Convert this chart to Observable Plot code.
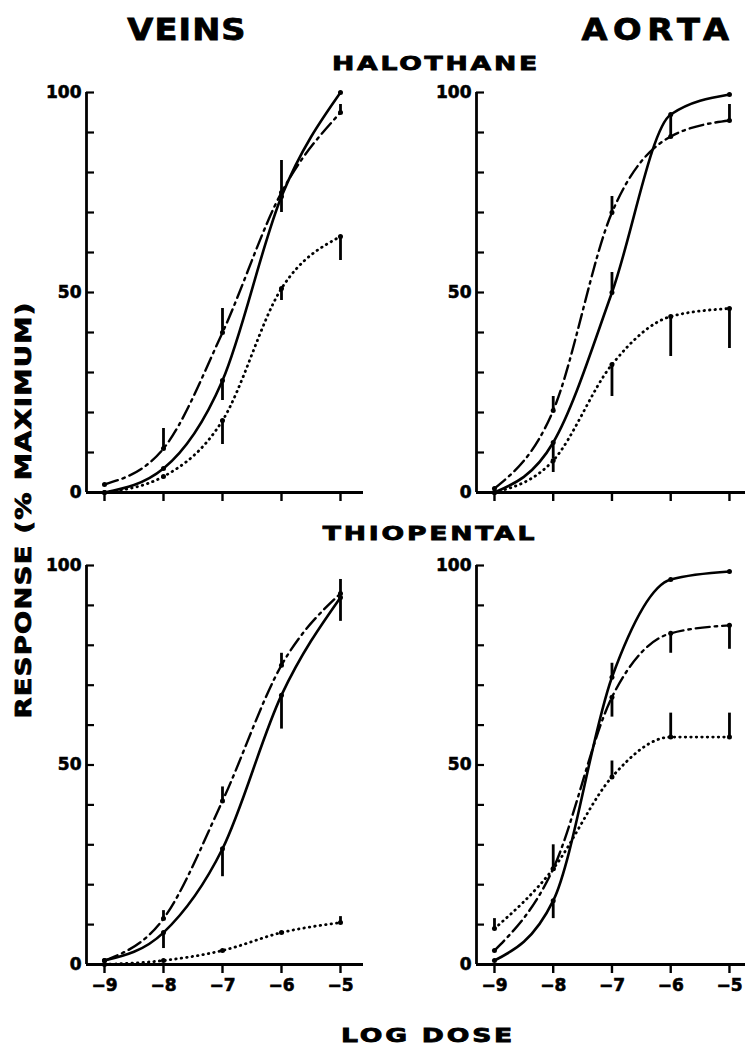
<!DOCTYPE html>
<html>
<head>
<meta charset="utf-8">
<script src="https://cdn.jsdelivr.net/npm/d3@7"></script>
<script src="https://cdn.jsdelivr.net/npm/@observablehq/plot@0.6"></script>
<style>
  body { margin: 0; background: #fff; }
  #fig { position: relative; width: 745px; height: 1047px; overflow: hidden; background: #fff;
         font-family: "DejaVu Sans", sans-serif; font-weight: bold; color: #000; }
  .lbl { position: absolute; white-space: nowrap; line-height: 1; transform-origin: center center;
         -webkit-text-stroke: 0.8px #000; }
  .panel { position: absolute; }
  .panel svg { max-width: none !important; }
  .panel svg text { stroke: #000; stroke-width: 0.6px; }
</style>
</head>
<body>
<div id="fig"></div>
<script>
// ---------- data ----------
const logDose = [-9, -8, -7, -6, -5];
const xTickLabels = ["−9", "−8", "−7", "−6", "−5"];
const yMinorTicks = [0, 10, 20, 30, 40, 50, 60, 70, 80, 90, 100];
const yLabelTicks = [0, 50, 100];
const yTickLabels = ["0", "50", "100"];

// Halothane – veins
const halVeinsSolid      = [0, 6, 28, 74, 100];
const halVeinsSolidErr   = [0, 0, -5, -4, 0];
const halVeinsDashDot    = [2, 11, 40, 75, 95];
const halVeinsDashDotErr = [0, 5, 6, 8, 2];
const halVeinsDotted     = [0, 4, 18, 51, 64];
const halVeinsDottedErr  = [0, 0, -6, -3, -6];

// Halothane – aorta
const halAortaSolid      = [0, 12.5, 50, 94.5, 99.5];
const halAortaSolidErr   = [0, -4, 5, 0, 0];
const halAortaDashDot    = [1, 20.5, 70, 89, 93];
const halAortaDashDotErr = [0, 3.5, 4, 5.5, 4];
const halAortaDotted     = [0, 8, 32, 44, 46];
const halAortaDottedErr  = [0, -3, -8, -10, -10];

// Thiopental – veins
const thioVeinsSolid      = [1, 8, 29, 67.5, 92];
const thioVeinsSolidErr   = [0, -4, -7, -8.5, -6];
const thioVeinsDashDot    = [1, 11.5, 41, 75, 93];
const thioVeinsDashDotErr = [0, 2, 3.5, 3, 3.5];
const thioVeinsDotted     = [0, 1, 3.5, 8, 10.5];
const thioVeinsDottedErr  = [0, 0, 0, 0, 1.5];

// Thiopental – aorta
const thioAortaSolid      = [1, 16, 72, 96.5, 98.5];
const thioAortaSolidErr   = [0, -4.5, 3.5, 0, 0];
const thioAortaDashDot    = [3.5, 24, 67, 83, 85];
const thioAortaDashDotErr = [0, 6, -5, -5, -6];
const thioAortaDotted     = [9, 24, 47, 57, 57];
const thioAortaDottedErr  = [2.5, 0, 4, 6, 6];

// ---------- styles ----------
const lineStyles = {
  solid:   { stroke: "#000", strokeWidth: 2.6 },
  dashDot: { stroke: "#000", strokeWidth: 2.4, strokeDasharray: "14,5,2.5,5" },
  dotted:  { stroke: "#000", strokeWidth: 2.8, strokeDasharray: "0.5,5", strokeLinecap: "round" }
};

function makePanel(cfg) {
  const rows = [];
  const series = [
    ["solid", cfg.solid, cfg.solidErr],
    ["dashDot", cfg.dashDot, cfg.dashDotErr],
    ["dotted", cfg.dotted, cfg.dottedErr]
  ];
  for (const [name, vals, errs] of series) {
    vals.forEach((v, i) => rows.push({ series: name, x: logDose[i], y: v, err: errs[i] }));
  }
  const [x0, x1] = cfg.xDomain;
  const height = cfg.marginTop + cfg.frameH + cfg.marginBottom;
  const marks = [
    Plot.axisY(yMinorTicks, { tickSize: 8, dx: 8, strokeWidth: 2.2, tickFormat: () => "", label: null }),
    Plot.axisY(yLabelTicks, { tickSize: 0, tickPadding: 5, tickFormat: d => yTickLabels[yLabelTicks.indexOf(d)], label: null }),
    Plot.axisX(logDose, { tickSize: 9, tickPadding: 5, strokeWidth: 2.4,
      tickFormat: d => cfg.showXLabels ? xTickLabels[logDose.indexOf(d)] : "", label: null }),
    Plot.ruleX([x0], { y1: 0, y2: 100, strokeWidth: 2.8 }),
    Plot.ruleY([0], { x1: x0, x2: x1, strokeWidth: 2.8 }),
    ...["solid", "dashDot", "dotted"].map(s =>
      Plot.line(rows.filter(r => r.series === s), { x: "x", y: "y", curve: "monotone-x", ...lineStyles[s] })),
    Plot.ruleX(rows.filter(r => r.err !== 0), { x: "x", y1: "y", y2: r => r.y + r.err, strokeWidth: 2.8 }),
    Plot.dot(rows, { x: "x", y: "y", r: 2.5, fill: "#000" })
  ];
  return Plot.plot({
    width: cfg.width, height,
    marginLeft: cfg.marginLeft, marginRight: cfg.marginRight,
    marginTop: cfg.marginTop, marginBottom: cfg.marginBottom,
    x: { domain: cfg.xDomain },
    y: { domain: [0, 100] },
    style: { fontFamily: "DejaVu Sans, sans-serif", fontWeight: "bold", fontSize: "17px",
             background: "transparent", overflow: "visible" },
    marks
  });
}

const fig = document.getElementById("fig");
function place(node, left, top, width) {
  const d = document.createElement("div");
  d.className = "panel";
  d.style.left = left + "px"; d.style.top = top + "px"; d.style.width = width + "px";
  d.appendChild(node);
  fig.appendChild(d);
}
function label(text, cx, cy, size, opts = {}) {
  const d = document.createElement("div");
  d.className = "lbl";
  d.textContent = text;
  d.style.left = cx + "px"; d.style.top = cy + "px";
  d.style.fontSize = size + "px";
  d.style.letterSpacing = (opts.spacing || 0) + "px";
  d.style.transform = `translate(-50%,-50%) ${opts.rotate ? "rotate(" + opts.rotate + "deg)" : ""} scaleX(${opts.sx || 1})`;
  fig.appendChild(d);
}

const leftGeom  = { width: 380, marginLeft: 86, marginRight: 17, xDomain: [-9.305, -4.61] };
const rightGeom = { width: 355, marginLeft: 86, marginRight: 0,  xDomain: [-9.306, -4.727] };
const topGeom    = { marginTop: 32, frameH: 400, marginBottom: 20, showXLabels: false };
const bottomGeom = { marginTop: 30, frameH: 399, marginBottom: 40, showXLabels: true };

place(makePanel({ ...leftGeom, ...topGeom,
  solid: halVeinsSolid, solidErr: halVeinsSolidErr, dashDot: halVeinsDashDot, dashDotErr: halVeinsDashDotErr,
  dotted: halVeinsDotted, dottedErr: halVeinsDottedErr }), 0, 60, 380);
place(makePanel({ ...rightGeom, ...topGeom,
  solid: halAortaSolid, solidErr: halAortaSolidErr, dashDot: halAortaDashDot, dashDotErr: halAortaDashDotErr,
  dotted: halAortaDotted, dottedErr: halAortaDottedErr }), 390, 60, 355);
place(makePanel({ ...leftGeom, ...bottomGeom,
  solid: thioVeinsSolid, solidErr: thioVeinsSolidErr, dashDot: thioVeinsDashDot, dashDotErr: thioVeinsDashDotErr,
  dotted: thioVeinsDotted, dottedErr: thioVeinsDottedErr }), 0, 535, 380);
place(makePanel({ ...rightGeom, ...bottomGeom,
  solid: thioAortaSolid, solidErr: thioAortaSolidErr, dashDot: thioAortaDashDot, dashDotErr: thioAortaDashDotErr,
  dotted: thioAortaDotted, dottedErr: thioAortaDottedErr }), 390, 535, 355);

label("VEINS", 187, 30, 30, { spacing: 1, sx: 1.12 });
label("AORTA", 658, 30, 30, { spacing: 5, sx: 1.12 });
label("HALOTHANE", 436, 63, 19, { spacing: 2, sx: 1.4 });
label("THIOPENTAL", 430, 533, 19, { spacing: 2, sx: 1.4 });
label("LOG DOSE", 428, 1035, 19, { spacing: 2, sx: 1.4 });
label("RESPONSE (% MAXIMUM)", 24, 510, 21, { spacing: 1, sx: 1.3, rotate: -90 });
</script>
</body>
</html>
